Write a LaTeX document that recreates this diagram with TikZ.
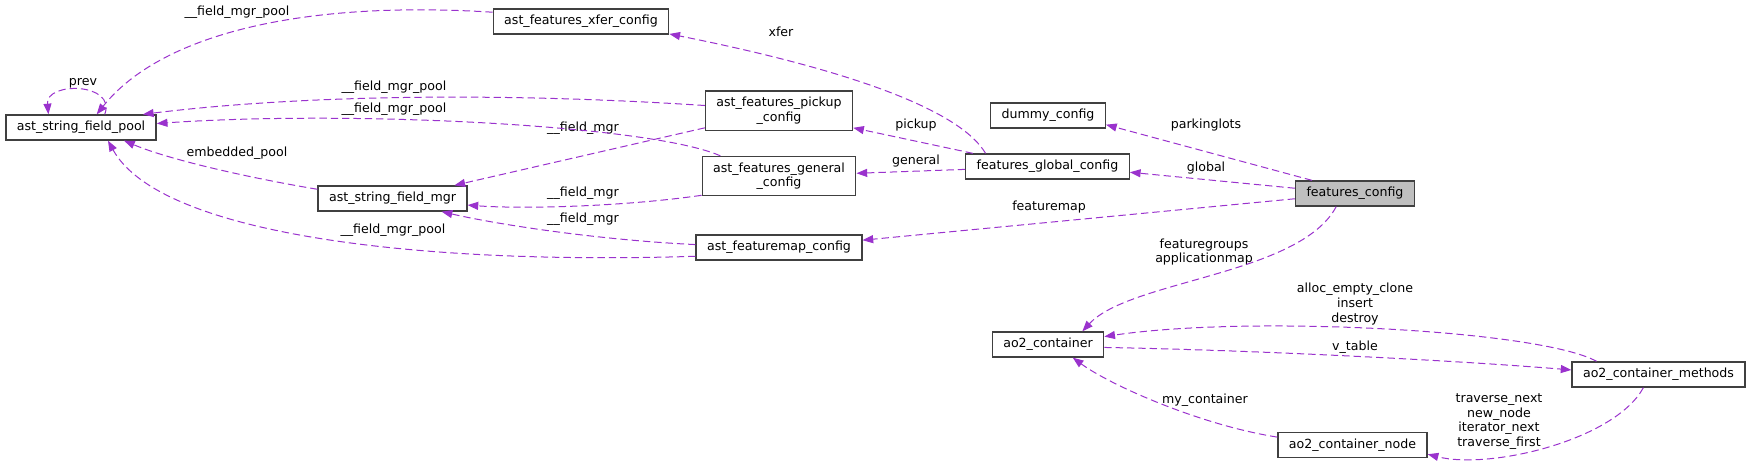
\documentclass[tikz,border=0pt]{standalone}
\usepackage{fontspec}
\setmainfont{DejaVu Sans}
\usepackage{tikz}
\usetikzlibrary{arrows.meta}
\definecolor{orchid}{HTML}{9A32CD}
\definecolor{grey75}{HTML}{BFBFBF}
\definecolor{grey25}{HTML}{404040}

\begin{document}
\begin{tikzpicture}[->,>={Triangle[length=8pt,width=6pt]},x=0.75pt,y=-0.75pt]
\tikzstyle{cls}=[draw=grey25,fill=white,line width=1pt,inner xsep=8.2pt,inner ysep=4.5pt,minimum height=18.75pt,align=center]
\tikzstyle{use}=[color=orchid,dash pattern=on 5.5pt off 3pt,line width=0.75pt]
\tikzstyle{lbl}=[inner sep=0pt,align=center]
\tikzset{font=\fontsize{9.45pt}{10.9pt}\selectfont}
\useasboundingbox (0,0) rectangle (1753,468);

        % classes
        \node[cls]               (pool)    at (81,127.5)    {ast\_string\_field\_pool};
        \node[cls]               (xfer)    at (581,21.5)    {ast\_features\_xfer\_config};
        \node[cls]               (pickup)  at (779,110.7)   {ast\_features\_pickup\\\_config};
        \node[cls]               (general) at (779,176)     {ast\_features\_general\\\_config};
        \node[cls]               (mgr)     at (392.5,198.5) {ast\_string\_field\_mgr};
        \node[cls]               (fmap)    at (779,247.5)   {ast\_featuremap\_config};
        \node[cls]               (dummy)   at (1048,115.5)  {dummy\_config};
        \node[cls]               (global)  at (1047.5,166.5) {features\_global\_config};
        \node[cls,fill=grey75]   (fcfg)    at (1355,193.5)  {features\_config};
        \node[cls]               (cont)    at (1048,344.5)  {ao2\_container};
        \node[cls]               (meth)    at (1658.5,374.5) {ao2\_container\_methods};
        \node[cls]               (cnode)   at (1352.5,445)  {ao2\_container\_node};

        % labels
        \node[lbl] (lprev)   at (83,83)     {prev};
        \node[lbl] (lxpool)  at (237,12)    {\_\_field\_mgr\_pool};
        \node[lbl] (lppool)  at (394,87)    {\_\_field\_mgr\_pool};
        \node[lbl] (lgpool)  at (394,109)   {\_\_field\_mgr\_pool};
        \node[lbl] (lmpool)  at (393,230)   {\_\_field\_mgr\_pool};
        \node[lbl] (lemb)    at (237,153)   {embedded\_pool};
        \node[lbl] (lpmgr)   at (583,128)   {\_\_field\_mgr};
        \node[lbl] (lgmgr)   at (583,193)   {\_\_field\_mgr};
        \node[lbl] (lmmgr)   at (583,219)   {\_\_field\_mgr};
        \node[lbl] (lxfer)   at (781,32)    {xfer};
        \node[lbl] (lpick)   at (916,125)   {pickup};
        \node[lbl] (lgen)    at (916,161)   {general};
        \node[lbl] (lpark)   at (1206,125)  {parkinglots};
        \node[lbl] (lglob)   at (1206,168)  {global};
        \node[lbl] (lfmap)   at (1049,207)  {featuremap};
        \node[lbl] (lgroups) at (1204,252)  {featuregroups\\applicationmap};
        \node[lbl] (lalloc)  at (1355,304)  {alloc\_empty\_clone\\insert\\destroy};
        \node[lbl] (lvtab)   at (1355,347)  {v\_table};
        \node[lbl] (lmyc)    at (1205,400)  {my\_container};
        \node[lbl] (ltrav)   at (1499,421.5) {traverse\_next\\new\_node\\iterator\_next\\traverse\_first};

        % curved connectors
        \draw[use] (pool.29) .. controls +(12,-32) and +(-3,-33) .. (pool.158);
        \draw[use] (xfer.174) .. controls (300,0) and (160,35) .. (pool.40);
        \draw[use] (pickup.176) .. controls (500,92) and (300,95) .. (pool.12);
        \draw[use] (general.161) .. controls (650,125) and (350,110) .. (pool.3);
        \draw[use] (general.194) .. controls (620,207) and (520,209) .. (mgr.-5);
        \draw[use] (fmap.178) .. controls (600,240) and (500,225) .. (mgr.-15);
        \draw[use] (fmap.186) .. controls (420,265) and (160,235) .. (pool.-26);
        \draw[use] (mgr.173) .. controls (250,178) and (170,160) .. (pool.-17);
        \draw[use] (global.168) .. controls (960,110) and (850,70) .. (xfer.-8);
        \draw[use] (fcfg.215) .. controls (1300,275) and (1130,280) .. (cont.21);
        \draw[use] (meth.168) .. controls (1540,330) and (1250,315) .. (cont.8);
        \draw[use] (cont.-3) .. controls (1250,350) and (1450,360) .. (meth.177);
        \draw[use] (cnode.174) .. controls (1200,425) and (1110,385) .. (cont.-28);
        \draw[use] (meth.221) .. controls (1615,440) and (1490,470) .. (cnode.-7);

        % straight connectors
        \path[use]
        (pickup.193) edge (mgr.12)
        (global.170) edge (pickup.-13)
        (global.182) edge (general.2)
        (fcfg.163)   edge (dummy.-9)
        (fcfg.175)   edge (global.-4)
        (fcfg.185)   edge (fmap.5)
        ; %end path

\end{tikzpicture}
\end{document}
